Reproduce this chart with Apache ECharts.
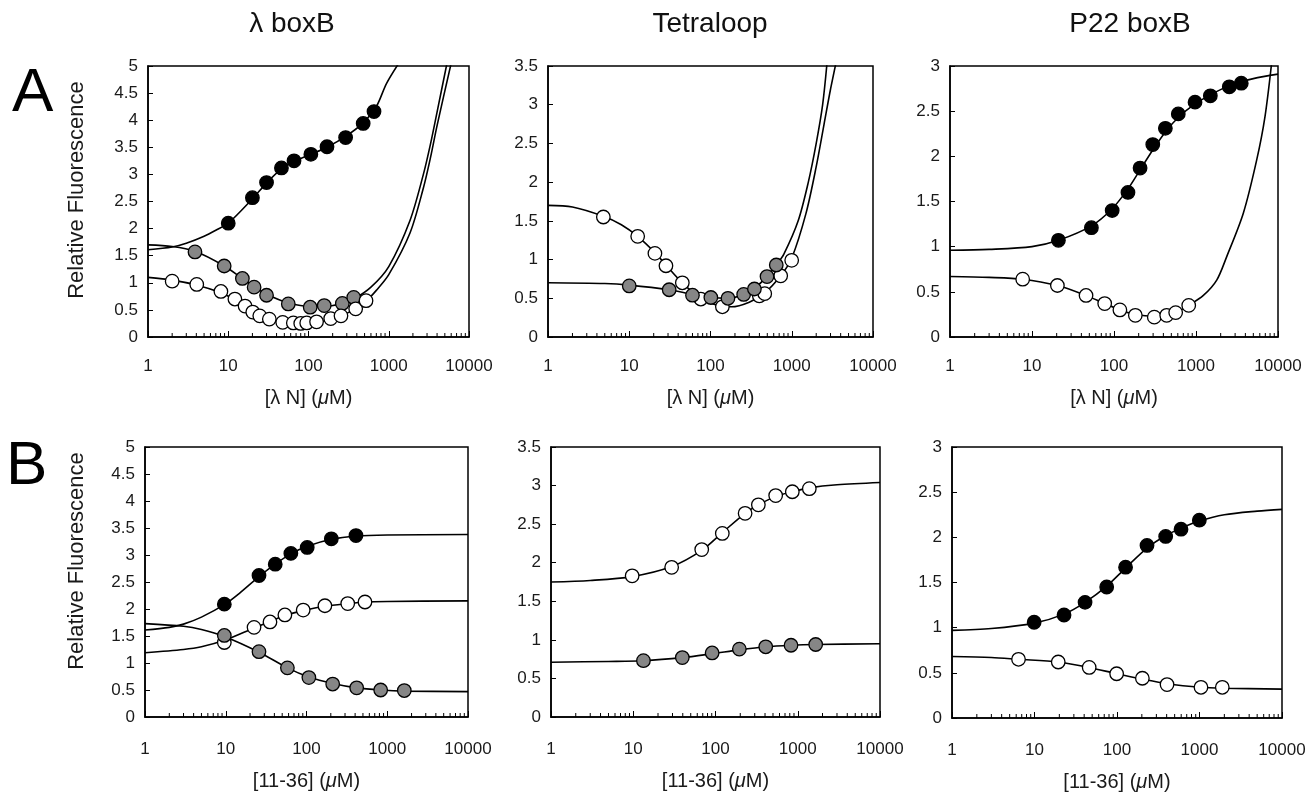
<!DOCTYPE html>
<html>
<head>
<meta charset="utf-8">
<script src="https://cdn.jsdelivr.net/npm/echarts@6/dist/echarts.min.js"></script>
<style>
html,body{margin:0;padding:0;background:#fff;}
#chart{width:1310px;height:798px;}
</style>
</head>
<body>
<div id="chart"></div>
<script>
// ---------- DATA ----------
const panelTitles = ['λ boxB', 'Tetraloop', 'P22 boxB'];
const rowLetters = ['A', 'B'];
const xTickLabels = ['1', '10', '100', '1000', '10000'];
const minorTickValues = [2,3,4,5,6,7,8,9,20,30,40,50,60,70,80,90,200,300,400,500,600,700,800,900,2000,3000,4000,5000,6000,7000,8000,9000];

// Row A, λ boxB
const a1BlackPts = [[10,2.10],[20,2.57],[30,2.85],[46,3.12],[66,3.25],[107,3.37],[170,3.51],[290,3.68],[480,3.94],[655,4.16]];
const a1BlackFit = [[1,1.61],[2,1.66],[3,1.73],[5,1.86],[7,1.97],[10,2.1],[20,2.55],[30,2.84],[46,3.1],[66,3.24],[107,3.37],[170,3.5],[290,3.7],[480,3.95],[700,4.25],[940,4.68],[1400,5.1]];
const a1GrayPts = [[3.85,1.57],[8.9,1.31],[15,1.08],[21,0.92],[30,0.77],[56,0.61],[105,0.55],[157,0.58],[264,0.62],[366,0.73]];
const a1GrayFit = [[1,1.70],[2,1.67],[3.85,1.58],[8.9,1.31],[15,1.08],[21,0.93],[30,0.79],[56,0.63],[105,0.56],[160,0.56],[264,0.62],[366,0.70],[600,0.92],[1000,1.3],[1840,2.15],[2700,3.0],[3300,3.55],[4000,4.15],[5400,5.1]];
const a1WhitePts = [[2,1.03],[4.05,0.97],[8.1,0.84],[12.1,0.70],[16.2,0.57],[20.2,0.46],[24.7,0.39],[32.5,0.33],[47.7,0.27],[64.7,0.26],[80,0.25],[95,0.26],[126,0.28],[189,0.34],[254,0.39],[387,0.52],[521,0.67]];
const a1WhiteFit = [[1,1.1],[2,1.05],[4,0.96],[8,0.82],[12,0.69],[16,0.57],[20,0.47],[25,0.39],[33,0.32],[48,0.27],[80,0.25],[126,0.27],[189,0.32],[254,0.39],[387,0.52],[521,0.66],[700,0.86],[1000,1.15],[1840,1.92],[2700,2.75],[3300,3.3],[4000,3.9],[6100,5.1]];

// Row A, Tetraloop
const a2WhitePts = [[4.8,1.55],[12.7,1.30],[20.7,1.08],[28.3,0.92],[45,0.70],[76,0.49],[140,0.39],[399,0.53],[465,0.56],[731,0.79],[998,0.99]];
const a2WhiteFit = [[1,1.70],[2,1.68],[4.8,1.56],[8,1.45],[12.7,1.3],[20.7,1.09],[28.3,0.93],[45,0.7],[76,0.5],[120,0.41],[180,0.39],[300,0.45],[465,0.57],[731,0.79],[1000,1.02],[1500,1.6],[2000,2.2],[2500,2.75],[3000,3.2],[3600,3.6]];
const a2GrayPts = [[10,0.66],[31,0.61],[60,0.54],[101,0.51],[164,0.50],[256,0.55],[347,0.62],[496,0.78],[645,0.93]];
const a2GrayFit = [[1,0.70],[5,0.69],[10,0.67],[31,0.61],[60,0.55],[101,0.51],[164,0.5],[256,0.55],[347,0.63],[496,0.78],[645,0.93],[800,1.07],[1200,1.5],[1600,2.0],[2000,2.5],[2400,3.0],[2750,3.6]];

// Row A, P22 boxB
const a3BlackPts = [[21,1.07],[53,1.21],[95,1.40],[148,1.60],[208,1.87],[297,2.13],[423,2.31],[608,2.47],[973,2.60],[1496,2.67],[2547,2.77],[3565,2.81]];
const a3BlackFit = [[1,0.96],[3,0.97],[10,1.0],[21,1.07],[53,1.23],[95,1.42],[148,1.64],[208,1.85],[297,2.07],[423,2.27],[608,2.43],[973,2.58],[1500,2.68],[2500,2.78],[5000,2.86],[10000,2.91]];
const a3WhitePts = [[7.7,0.64],[20.4,0.57],[45.6,0.46],[77,0.37],[118,0.30],[182,0.24],[310,0.22],[439,0.24],[565,0.27],[815,0.35]];
const a3WhiteFit = [[1,0.67],[3,0.66],[7.7,0.64],[20.4,0.57],[45.6,0.46],[77,0.37],[118,0.3],[182,0.25],[310,0.23],[439,0.24],[565,0.27],[815,0.35],[1230,0.46],[1790,0.63],[2370,0.89],[3775,1.37],[5500,1.96],[6940,2.44],[8400,3.05]];

// Row B, λ boxB
const b1BlackPts = [[9.6,2.09],[25.8,2.62],[41,2.83],[64,3.03],[102,3.14],[203,3.30],[410,3.36]];
const b1BlackFit = [[1,1.61],[2,1.66],[3,1.72],[5,1.85],[9.6,2.08],[15,2.3],[25.8,2.6],[41,2.83],[64,3.02],[102,3.16],[203,3.29],[410,3.35],[1000,3.37],[10000,3.38]];
const b1WhitePts = [[9.6,1.38],[22.4,1.66],[35.3,1.76],[54,1.89],[91,1.98],[169,2.06],[324,2.10],[530,2.13]];
const b1WhiteFit = [[1,1.19],[3,1.25],[5,1.3],[9.6,1.42],[22.4,1.65],[35.3,1.77],[54,1.88],[91,1.97],[169,2.05],[324,2.1],[530,2.13],[1000,2.14],[10000,2.15]];
const b1GrayPts = [[9.6,1.51],[25.8,1.21],[58,0.91],[107,0.73],[211,0.61],[418,0.54],[829,0.50],[1626,0.49]];
const b1GrayFit = [[1,1.73],[3,1.68],[5,1.62],[9.6,1.49],[25.8,1.2],[58,0.91],[107,0.74],[211,0.62],[418,0.54],[829,0.5],[1626,0.48],[10000,0.47]];

// Row B, Tetraloop
const b2WhitePts = [[9.7,1.83],[29.3,1.94],[68,2.17],[121,2.38],[229,2.64],[332,2.75],[539,2.87],[859,2.92],[1382,2.96]];
const b2WhiteFit = [[1,1.75],[3,1.77],[9.7,1.82],[29.3,1.95],[68,2.16],[121,2.39],[229,2.64],[332,2.75],[539,2.86],[859,2.92],[1382,2.97],[3000,3.01],[10000,3.04]];
const b2GrayPts = [[13.3,0.73],[39.5,0.77],[91,0.83],[195,0.88],[408,0.91],[828,0.93],[1652,0.94]];
const b2GrayFit = [[1,0.71],[5,0.72],[13.3,0.73],[39.5,0.77],[91,0.82],[195,0.87],[408,0.91],[828,0.93],[1652,0.94],[10000,0.95]];

// Row B, P22 boxB
const b3BlackPts = [[9.9,1.06],[22.8,1.14],[41,1.28],[75,1.45],[127,1.67],[231,1.91],[389,2.01],[597,2.09],[995,2.19]];
const b3BlackFit = [[1,0.97],[3,0.99],[9.9,1.05],[22.8,1.15],[41,1.28],[75,1.46],[127,1.66],[231,1.88],[389,2.02],[597,2.1],[995,2.18],[2000,2.25],[5000,2.29],[10000,2.31]];
const b3WhitePts = [[6.4,0.65],[19.4,0.62],[46,0.56],[99,0.49],[203,0.44],[404,0.37],[1042,0.34],[1889,0.34]];
const b3WhiteFit = [[1,0.68],[3,0.67],[6.4,0.65],[19.4,0.62],[46,0.56],[99,0.49],[203,0.43],[404,0.38],[1042,0.34],[1889,0.33],[10000,0.32]];

const yMaxes = [5, 3.5, 3, 5, 3.5, 3];
const yName = 'Relative Fluorescence';

// ---------- LAYOUT / STYLE ----------
const FONT = '"Liberation Sans", Arial, Helvetica, sans-serif';
const FILL = { black: '#000000', gray: '#868686', white: '#ffffff' };

const grids = [
  { left: 148, top: 66, width: 321, height: 271 },
  { left: 548, top: 66, width: 325, height: 271 },
  { left: 950, top: 66, width: 328, height: 271 },
  { left: 145, top: 447, width: 323, height: 270 },
  { left: 551, top: 447, width: 329, height: 270 },
  { left: 952, top: 447, width: 330, height: 271 }
];

const panelSeries = [
  [[a1BlackFit, a1BlackPts, 'black'], [a1GrayFit, a1GrayPts, 'gray'], [a1WhiteFit, a1WhitePts, 'white']],
  [[a2WhiteFit, a2WhitePts, 'white'], [a2GrayFit, a2GrayPts, 'gray']],
  [[a3BlackFit, a3BlackPts, 'black'], [a3WhiteFit, a3WhitePts, 'white']],
  [[b1BlackFit, b1BlackPts, 'black'], [b1WhiteFit, b1WhitePts, 'white'], [b1GrayFit, b1GrayPts, 'gray']],
  [[b2WhiteFit, b2WhitePts, 'white'], [b2GrayFit, b2GrayPts, 'gray']],
  [[b3BlackFit, b3BlackPts, 'black'], [b3WhiteFit, b3WhitePts, 'white']]
];

const xNameA = '[λ N] ({i|μ}M)';
const xNameB = '[11-36] ({i|μ}M)';

const gridOpts = [], xAxes = [], yAxes = [], series = [];

grids.forEach((g, i) => {
  const rowB = i >= 3;
  gridOpts.push(Object.assign({ show: true, borderColor: '#000', borderWidth: 1.5, backgroundColor: 'transparent', containLabel: false }, g));
  xAxes.push({
    type: 'log', logBase: 10, min: 1, max: 10000, gridIndex: i,
    axisLine: { show: true, lineStyle: { color: '#000', width: 1.5 } },
    axisTick: { show: true, inside: true, length: 6, lineStyle: { color: '#000', width: 1 } },
    axisLabel: {
      color: '#1a1a1a', fontSize: 17, fontFamily: FONT, margin: rowB ? 24 : 21,
      formatter: v => xTickLabels[Math.round(Math.log10(v))] || ''
    },
    splitLine: { show: false },
    name: rowB ? xNameB : xNameA,
    nameLocation: 'middle',
    nameGap: rowB ? 54 : 51,
    nameTextStyle: {
      color: '#1a1a1a', fontSize: 20, fontFamily: FONT,
      rich: { i: { fontStyle: 'italic', fontSize: 20, fontFamily: FONT, color: '#1a1a1a' } }
    }
  });
  yAxes.push({
    type: 'value', min: 0, max: yMaxes[i], interval: 0.5, gridIndex: i,
    axisLine: { show: true, lineStyle: { color: '#000', width: 1.5 } },
    axisTick: { show: true, inside: true, length: 5, lineStyle: { color: '#000', width: 1 } },
    axisLabel: { color: '#1a1a1a', fontSize: 17, fontFamily: FONT, margin: 10 },
    splitLine: { show: false }
  });

  // minor log ticks drawn through the axis scale
  series.push({
    type: 'custom', xAxisIndex: i, yAxisIndex: i, silent: true, clip: false, z: 1,
    data: minorTickValues.map(v => [v, 0]),
    renderItem: (params, api) => {
      const p = api.coord([api.value(0), api.value(1)]);
      return { type: 'line', shape: { x1: p[0], y1: p[1], x2: p[0], y2: p[1] - 4 }, style: { stroke: '#000', lineWidth: 1 } };
    }
  });

  panelSeries[i].forEach(([fit, pts, col]) => {
    series.push({
      type: 'line', xAxisIndex: i, yAxisIndex: i, data: fit, smooth: 0.3,
      showSymbol: false, clip: true, silent: true, z: 2,
      lineStyle: { color: '#000', width: 1.6 }
    });
  });
  panelSeries[i].forEach(([fit, pts, col]) => {
    series.push({
      type: 'scatter', xAxisIndex: i, yAxisIndex: i, data: pts, symbol: 'circle', symbolSize: 13.5,
      silent: true, z: 3,
      itemStyle: { color: FILL[col], borderColor: '#000', borderWidth: 1.3, opacity: 1 }
    });
  });
});

const titleCenters = [292, 710, 1130];
const graphics = [];
panelTitles.forEach((t, k) => {
  graphics.push({ type: 'text', x: titleCenters[k], y: 24, style: { text: t, fontSize: 28, fontFamily: FONT, fill: '#111', align: 'center', verticalAlign: 'middle' } });
});
graphics.push({ type: 'text', x: 12, y: 94, style: { text: rowLetters[0], fontSize: 62, fontFamily: FONT, fill: '#000', align: 'left', verticalAlign: 'middle' } });
graphics.push({ type: 'text', x: 6, y: 467, style: { text: rowLetters[1], fontSize: 62, fontFamily: FONT, fill: '#000', align: 'left', verticalAlign: 'middle' } });
// y-axis titles
[190, 561].forEach(cy => {
  graphics.push({ type: 'text', x: 77, y: cy, rotation: Math.PI / 2, style: { text: yName, fontSize: 22, fontFamily: FONT, fill: '#1a1a1a', align: 'center', verticalAlign: 'middle' } });
});

const chart = echarts.init(document.getElementById('chart'), null, { renderer: 'canvas' });
chart.setOption({
  backgroundColor: '#ffffff',
  animation: false,
  grid: gridOpts,
  xAxis: xAxes,
  yAxis: yAxes,
  series: series,
  graphic: graphics
});
</script>
</body>
</html>
